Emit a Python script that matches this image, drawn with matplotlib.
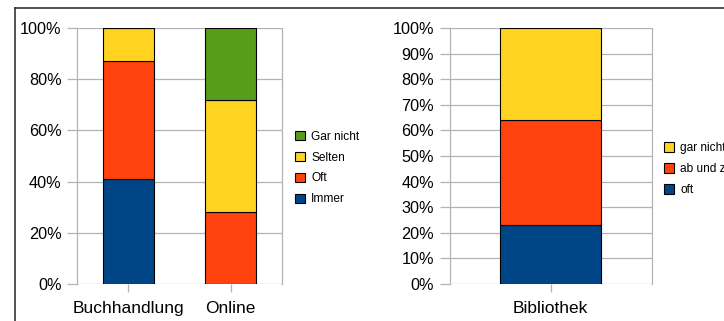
import matplotlib
matplotlib.use("Agg")
import matplotlib.pyplot as plt
from matplotlib.lines import Line2D
from matplotlib.patches import Patch

plt.rcParams['font.family'] = ['Liberation Sans', 'DejaVu Sans']

# Left chart data (percent)
left_categories = ["Buchhandlung", "Online"]
left_series = ["Immer", "Oft", "Selten", "Gar nicht"]
immer = [41, 0]
oft = [46, 28]
selten = [13, 44]
gar_nicht = [0, 28]
left_colors = ["#004586", "#ff420e", "#ffd320", "#579d1c"]
left_ticks = [0, 20, 40, 60, 80, 100]

# Right chart data (percent)
right_categories = ["Bibliothek"]
right_series = ["oft", "ab und zu", "gar nicht"]
r_oft = [23]
r_abundzu = [41]
r_garnicht = [36]
right_colors = ["#004586", "#ff420e", "#ffd320"]
right_ticks = [0, 10, 20, 30, 40, 50, 60, 70, 80, 90, 100]

W, H = 724, 321
fig = plt.figure(figsize=(W / 100, H / 100), dpi=100)

grid_c = "#b3b3b3"


def style(ax, ticks):
    ax.set_ylim(0, 100)
    ax.set_yticks(ticks)
    ax.set_yticklabels([f"{t}%" for t in ticks])
    ax.yaxis.grid(True, color=grid_c, linewidth=0.9)
    ax.set_axisbelow(True)
    for s in ["top", "bottom"]:
        ax.spines[s].set_visible(False)
    for s in ["left", "right"]:
        ax.spines[s].set_color(grid_c)
        ax.spines[s].set_linewidth(0.9)
    ax.tick_params(axis='y', length=7, color=grid_c, width=0.9, labelsize=11.7, pad=4)
    ax.tick_params(axis='x', length=6, color=grid_c, width=0.9, labelsize=12.5, pad=6)


def stack(ax, cats, series_vals, colors):
    x = list(range(len(cats)))
    bottom = [0] * len(cats)
    for vals, c in zip(series_vals, colors):
        ax.bar(x, vals, bottom=bottom, width=0.5, color=c, edgecolor="black", linewidth=0.8)
        bottom = [b + v for b, v in zip(bottom, vals)]
    ax.set_xticks(x)
    ax.set_xticklabels(cats)
    ax.set_xlim(-0.5, len(cats) - 0.5)


ax1 = fig.add_axes([77 / W, 1 - 284 / H, 205 / W, 256 / H])
stack(ax1, left_categories, [immer, oft, selten, gar_nicht], left_colors)
style(ax1, left_ticks)

ax2 = fig.add_axes([449.5 / W, 1 - 284 / H, 202.5 / W, 256 / H])
stack(ax2, right_categories, [r_oft, r_abundzu, r_garnicht], right_colors)
style(ax2, right_ticks)

# Legends
h1 = [Patch(facecolor=c, edgecolor="black", linewidth=0.8) for c in left_colors][::-1]
fig.legend(h1, left_series[::-1], loc="center left", bbox_to_anchor=(295 / W, 1 - 168 / H),
           frameon=False, fontsize=8.6, handlelength=0.85, handleheight=0.85,
           handletextpad=0.5, labelspacing=0.75, borderaxespad=0, borderpad=0)

h2 = [Patch(facecolor=c, edgecolor="black", linewidth=0.8) for c in right_colors][::-1]
fig.legend(h2, right_series[::-1], loc="center left", bbox_to_anchor=(664 / W, 1 - 169 / H),
           frameon=False, fontsize=8.6, handlelength=0.85, handleheight=0.85,
           handletextpad=0.5, labelspacing=0.75, borderaxespad=0, borderpad=0)

# Outer frame lines
fig.add_artist(Line2D([15 / W, 1.0], [1 - 8 / H, 1 - 8 / H], color="#333333", linewidth=1.2,
                      transform=fig.transFigure))
fig.add_artist(Line2D([15 / W, 15 / W], [0, 1 - 8 / H], color="#333333", linewidth=1.2,
                      transform=fig.transFigure))

fig.savefig("out.png", dpi=100)
